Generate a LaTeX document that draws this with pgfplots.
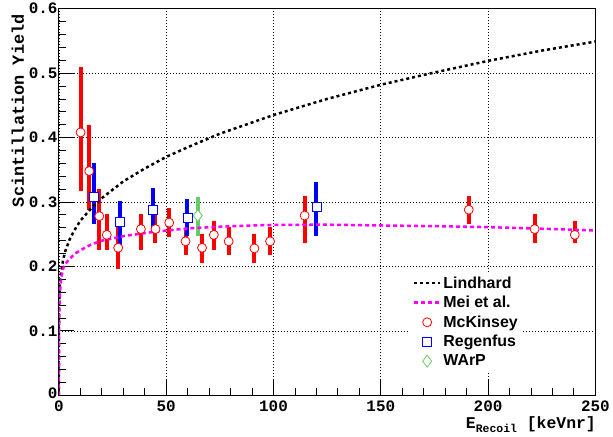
\documentclass[border=0pt]{standalone}
\usepackage{fontspec}
\usepackage{pgfplots}
\pgfplotsset{compat=1.18}
\newfontfamily\cour{Liberation Mono}
\newfontfamily\helv{Liberation Sans}
\definecolor{wgreen}{rgb}{0.4,0.8,0.4}
\definecolor{mgt}{rgb}{1,0,1}
\begin{document}
\begin{tikzpicture}
\begin{axis}[
  scale only axis, width=537bp, height=387bp,
  xmin=0, xmax=250, ymin=0, ymax=0.6,
  xtick={0,50,100,150,200,250},
  xticklabels={0,50,100,150,200,250},
  ytick={0,0.1,0.2,0.3,0.4,0.5,0.6},
  yticklabels={\raisebox{5bp}{0},0.1,0.2,0.3,0.4,0.5,0.6},
  minor x tick num=4, minor y tick num=4,
  tick align=inside, tick pos=left,
  major tick length=15bp, minor tick length=7bp,
  tick style={black, line width=0.8bp},
  axis line style={black, line width=1bp},
  grid=major,
  major grid style={black, line width=0.6bp, dash pattern=on 1bp off 2bp},
  /pgf/number format/assume math mode=true,
  tick label style={font=\cour\bfseries\fontsize{16}{18}\selectfont},
  yticklabel style={xshift=2bp},
  xticklabel style={yshift=-2bp},
  xlabel={E\raisebox{-4bp}{\fontsize{11.5}{12}\selectfont Recoil} [keVnr]},
  xlabel style={font=\cour\bfseries\fontsize{16.5}{18}\selectfont, at={(rel axis cs:1,0)}, anchor=base east, yshift=-33bp, xshift=4bp},
  ylabel={Scintillation Yield},
  ylabel style={font=\cour\bfseries\fontsize{17}{18}\selectfont, at={(rel axis cs:0,1)}, anchor=base east, xshift=-2bp, yshift=35bp},
  legend style={at={(rel axis cs:0.654,0.318)}, anchor=north west, draw=none, fill=white,
    font=\helv\bfseries\fontsize{16}{16}\selectfont, row sep=2.6bp},
  legend cell align=left,
  legend image code/.code={\draw[mark repeat=2,mark phase=2,#1] plot coordinates {(0bp,0bp) (13bp,0bp) (26bp,0bp)};},
]
% McKinsey
\addplot[red, only marks, mark=*, mark size=4.5bp, mark options={fill=white, draw=red, line width=0.8bp}, forget plot,
  error bars/.cd, y dir=both, y explicit, error mark=none, error bar style={line width=4bp, red}]
  table[x=x, y=y, y error plus=ep, y error minus=em] {
x y ep em
10.1 0.408 0.102 0.091
14.1 0.348 0.072 0.061
18.8 0.278 0.042 0.053
22.3 0.249 0.032 0.023
27.6 0.229 0.032 0.033
38.2 0.258 0.023 0.032
45.0 0.258 0.023 0.022
51.4 0.268 0.023 0.022
59.0 0.239 0.021 0.022
66.7 0.229 0.022 0.023
72.2 0.249 0.021 0.023
79.1 0.239 0.022 0.022
91.1 0.228 0.023 0.022
98.4 0.239 0.022 0.022
114.5 0.279 0.031 0.043
191.0 0.288 0.022 0.022
221.7 0.258 0.023 0.022
240.4 0.249 0.021 0.013
};
% Regenfus
\addplot[blue, only marks, mark=square*, mark size=4.5bp, mark options={fill=white, draw=blue, line width=0.8bp}, forget plot,
  error bars/.cd, y dir=both, y explicit, error mark=none, error bar style={line width=4bp, blue}]
  table[x=x, y=y, y error plus=ep, y error minus=em] {
x y ep em
16.4 0.308 0.052 0.042
28.4 0.269 0.033 0.038
43.9 0.288 0.033 0.032
59.9 0.275 0.030 0.027
120.0 0.292 0.039 0.044
};
% WArP
\addplot[wgreen, only marks, mark=diamond*, mark size=6bp, mark options={fill=white, draw=wgreen, line width=0.8bp}, forget plot,
  error bars/.cd, y dir=both, y explicit, error mark=none, error bar style={line width=4bp, wgreen}]
  table[x=x, y=y, y error plus=ep, y error minus=em] {
x y ep em
64.7 0.279 0.028 0.032
};
% Lindhard
\addplot[black, line width=2.5bp, dash pattern=on 3bp off 3bp] table {
0 0
0.01 0.103
0.1 0.140
0.5 0.174
1 0.1915
2 0.211
3 0.224
5 0.242
7 0.255
10 0.271
15 0.290
20 0.306
30 0.332
40 0.352
50 0.370
60 0.385
75 0.406
100 0.435
125 0.460
150 0.482
175 0.501
200 0.519
225 0.535
250 0.549
};
\addlegendentry{Lindhard}
% Mei et al.
\addplot[mgt, line width=2.5bp, dash pattern=on 4bp off 3bp] table {
0 0
0.1 0.12
0.5 0.16
1 0.18
2 0.197
3 0.204
5 0.212
8 0.221
11 0.227
15 0.234
20 0.240
30 0.247
45 0.254
60 0.259
80 0.2625
100 0.2645
125 0.2648
150 0.2636
175 0.2625
200 0.2610
225 0.2585
250 0.2558
};
\addlegendentry{Mei et al.}
\addlegendimage{red, only marks, mark=*, mark size=4.5bp, mark options={fill=white, draw=red, line width=0.8bp}}
\addlegendentry{McKinsey}
\addlegendimage{blue, only marks, mark=square*, mark size=4.5bp, mark options={fill=white, draw=blue, line width=0.8bp}}
\addlegendentry{Regenfus}
\addlegendimage{wgreen, only marks, mark=diamond*, mark size=6bp, mark options={fill=white, draw=wgreen, line width=0.8bp}}
\addlegendentry{WArP}
\end{axis}
\path ([shift={(-59bp,-41bp)}]current axis.south west) rectangle ([shift={(17bp,8bp)}]current axis.north east);
\end{tikzpicture}
\end{document}
